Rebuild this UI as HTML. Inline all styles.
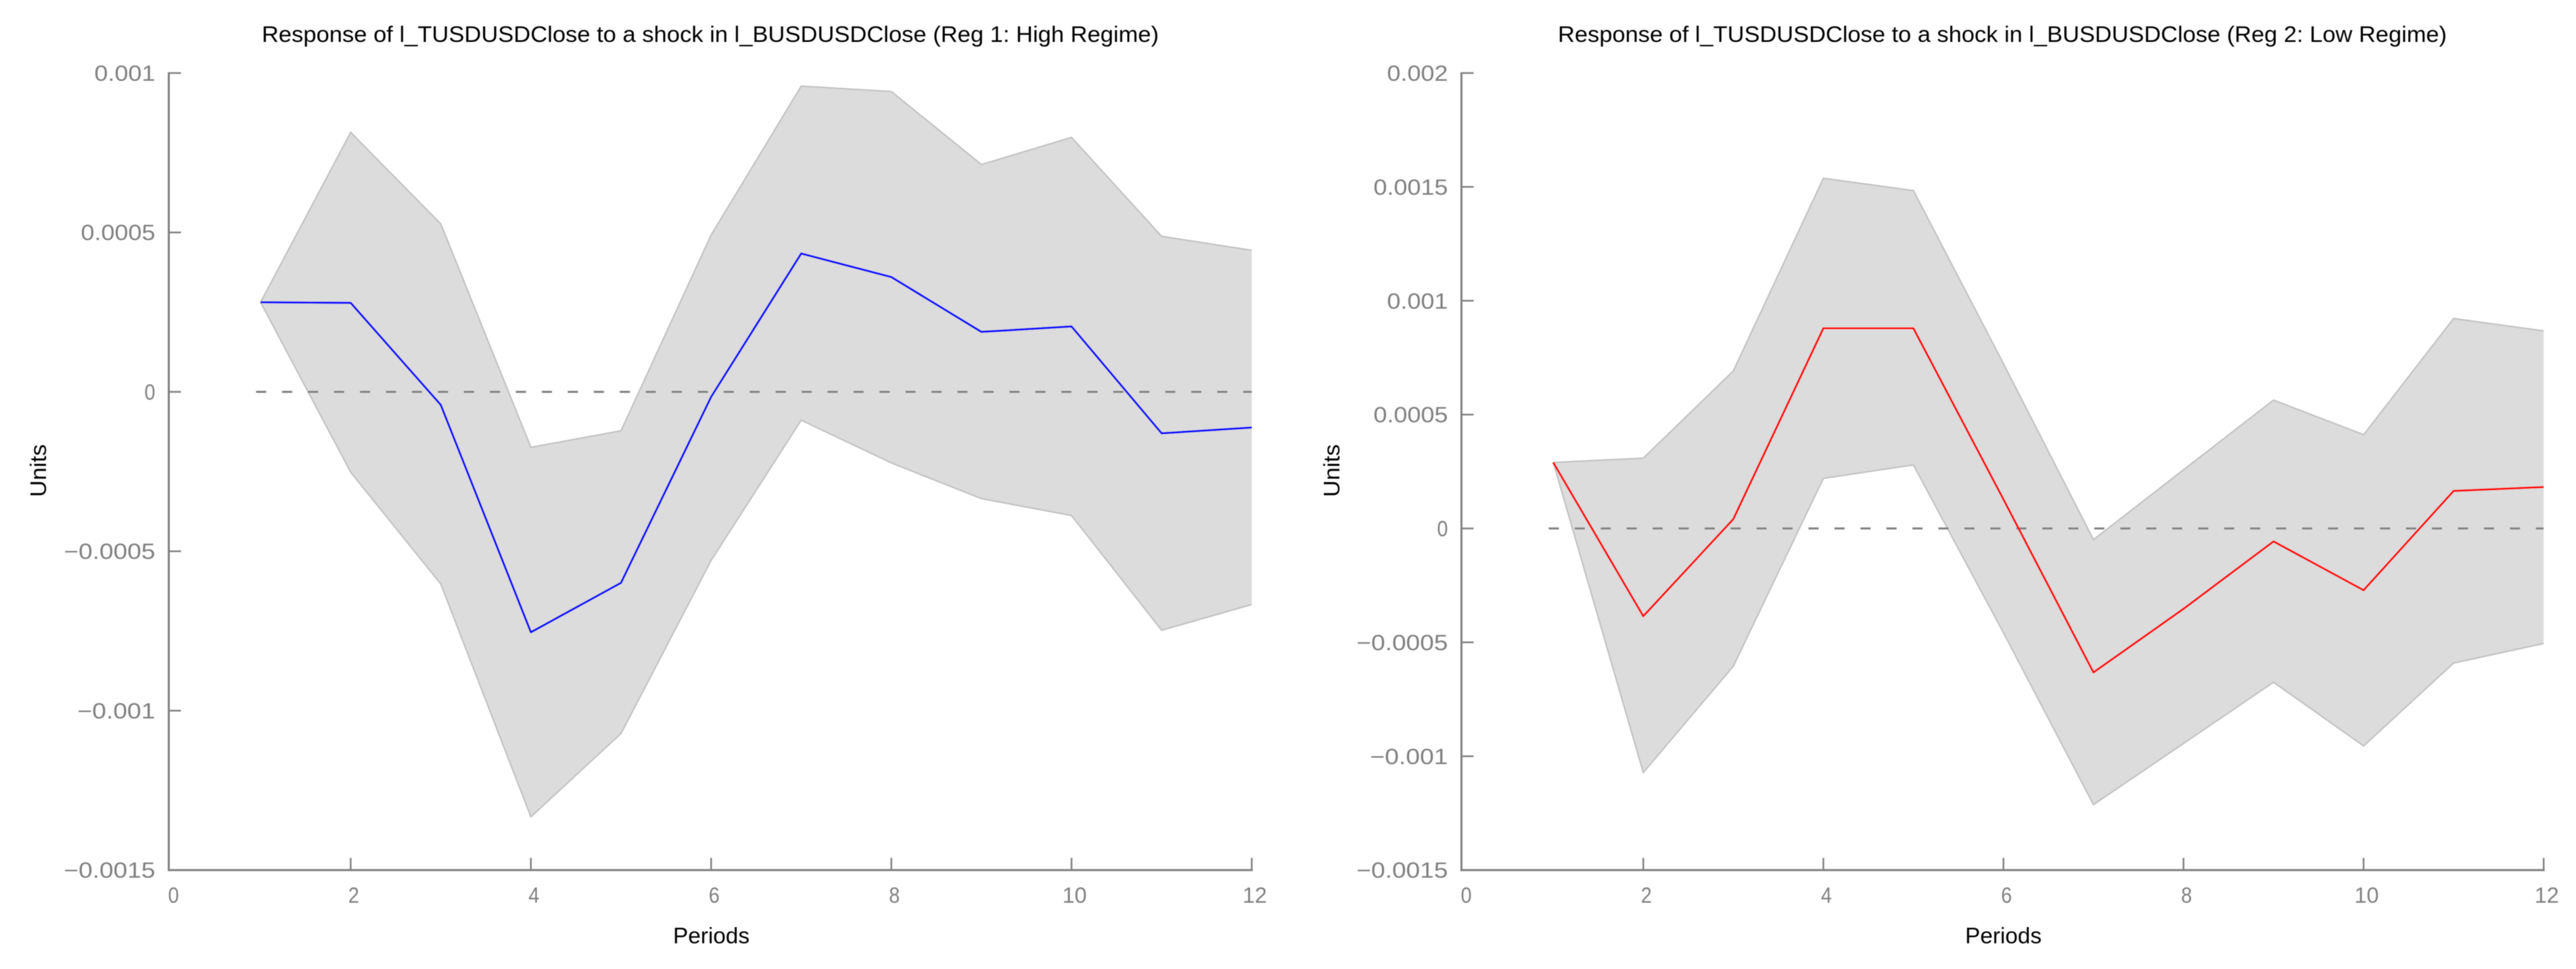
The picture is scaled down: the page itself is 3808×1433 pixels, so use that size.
<!DOCTYPE html>
<html lang="en">
<head>
<meta charset="utf-8">
<title>Impulse responses of l_TUSDUSDClose to a shock in l_BUSDUSDClose</title>
<style>
  html, body { margin: 0; padding: 0; background: #ffffff; }
  body { width: 3808px; height: 1433px; overflow: hidden; }
  svg { display: block; }
  text { font-family: "Liberation Sans", "DejaVu Sans", sans-serif; }
  .title, .axis-title { fill: #000000; font-size: 33px; }
  .tick-label { fill: #808080; font-size: 32px; }
</style>
</head>
<body>
<svg id="figure" xmlns="http://www.w3.org/2000/svg" width="3808" height="1433" viewBox="0 0 3808 1433">
  <defs>
    <filter id="soft" x="-2%" y="-2%" width="104%" height="104%"><feGaussianBlur stdDeviation="0.55"/></filter>
  </defs>
  <rect x="0" y="0" width="3808" height="1433" fill="#ffffff"/>

  <g id="panel-high" filter="url(#soft)">
    <text class="title" x="387" y="62" textLength="1326" lengthAdjust="spacingAndGlyphs">Response of l_TUSDUSDClose to a shock in l_BUSDUSDClose (Reg 1: High Regime)</text>
    <text class="axis-title" x="995" y="1395" textLength="113" lengthAdjust="spacingAndGlyphs">Periods</text>
    <text class="axis-title" transform="translate(68 735) rotate(-90)" textLength="78" lengthAdjust="spacingAndGlyphs">Units</text>
  </g>

  <g id="panel-low" filter="url(#soft)">
    <text class="title" x="2303" y="62" textLength="1314" lengthAdjust="spacingAndGlyphs">Response of l_TUSDUSDClose to a shock in l_BUSDUSDClose (Reg 2: Low Regime)</text>
    <text class="axis-title" x="2905" y="1395" textLength="113" lengthAdjust="spacingAndGlyphs">Periods</text>
    <text class="axis-title" transform="translate(1980 735) rotate(-90)" textLength="78" lengthAdjust="spacingAndGlyphs">Units</text>
  </g>
</svg>

<script>
// ---- Data ----
const periods = [1, 2, 3, 4, 5, 6, 7, 8, 9, 10, 11, 12];
const xTicks = [0, 2, 4, 6, 8, 10, 12];

const highResponse = [0.000281, 0.000279, -0.000041, -0.000754, -0.000599, -0.000016, 0.000434, 0.00036, 0.000188, 0.000205, -0.00013, -0.000112];
const highUpper = [0.000281, 0.000814, 0.000527, -0.000174, -0.000122, 0.000492, 0.000959, 0.000942, 0.000713, 0.000798, 0.000488, 0.000444];
const highLower = [0.000281, -0.000252, -0.000603, -0.001333, -0.001072, -0.000529, -0.000089, -0.000223, -0.000335, -0.000388, -0.000748, -0.000667];
const highYTicks = [0.001, 0.0005, 0, -0.0005, -0.001, -0.0015];

const lowResponse = [0.00029, -0.000385, 0.000041, 0.000879, 0.000879, 0.000128, -0.000632, -0.000353, -0.000057, -0.000271, 0.000165, 0.000182];
const lowUpper = [0.00029, 0.000309, 0.000692, 0.001538, 0.001484, 0.000724, -0.000049, 0.000258, 0.000564, 0.000412, 0.000922, 0.000868];
const lowLower = [0.00029, -0.001072, -0.000605, 0.00022, 0.000279, -0.000458, -0.001213, -0.000944, -0.000675, -0.000955, -0.000591, -0.000505];
const lowYTicks = [0.002, 0.0015, 0.001, 0.0005, 0, -0.0005, -0.001, -0.0015];

// ---- Drawing ----
const SVG_NS = 'http://www.w3.org/2000/svg';
const PLOT_TOP = 108;
const PLOT_BOTTOM = 1286.7;
const TICK_LEN = 18;
const ZERO_START = 0.95;

function make(tag, attrs, parent) {
  const el = document.createElementNS(SVG_NS, tag);
  for (const k in attrs) el.setAttribute(k, attrs[k]);
  parent.appendChild(el);
  return el;
}

function labelText(v) {
  const s = String(Math.abs(v));
  return (v < 0 ? '\u2212' : '') + s;
}

function labelWidth(s) {
  let w = 0;
  for (const c of s) w += c === '.' ? 10 : c === '\u2212' ? 25 : 20;
  return s.length === 1 ? 16 : s.length === 2 ? 36 : w;
}

function drawPanel(group, axisX, x0, xUnit, yTicks, response, upper, lower, color, prefix) {
  const yMax = yTicks[0];
  const yMin = yTicks[yTicks.length - 1];
  const xScale = v => x0 + xUnit * v;
  const yScale = v => PLOT_TOP + (yMax - v) / (yMax - yMin) * (PLOT_BOTTOM - PLOT_TOP);
  const toPoints = series => periods.map((p, i) => xScale(p).toFixed(1) + ',' + yScale(series[i]).toFixed(1));
  const xEnd = xScale(xTicks[xTicks.length - 1]);

  // confidence band
  const bandPts = toPoints(upper).concat(toPoints(lower).reverse()).join(' ');
  const band = make('polygon', { points: bandPts, fill: '#dcdcdc', stroke: 'none' }, group);
  
  

  const upperLine = make('polyline', { points: toPoints(upper).join(' '), fill: 'none', stroke: '#bfbfbf', 'stroke-width': 2 }, group);
  
  

  const lowerLine = make('polyline', { points: toPoints(lower).join(' '), fill: 'none', stroke: '#bfbfbf', 'stroke-width': 2 }, group);
  
  

  // zero reference line
  const zero = make('line', {
    x1: xScale(ZERO_START), x2: xEnd, y1: yScale(0), y2: yScale(0),
    stroke: '#808080', 'stroke-width': 3, 'stroke-dasharray': '15 23.4'
  }, group);
  
  

  // response series
  const line = make('polyline', { points: toPoints(response).join(' '), fill: 'none', stroke: color, 'stroke-width': 3, 'stroke-linejoin': 'round' }, group);
  
  

  // axes
  const yAxis = make('line', { x1: axisX, x2: axisX, y1: PLOT_TOP - 1, y2: PLOT_BOTTOM + 1.5, stroke: '#808080', 'stroke-width': 3 }, group);
  
  

  const xAxis = make('line', { x1: axisX - 1.5, x2: xEnd + 1.5, y1: PLOT_BOTTOM, y2: PLOT_BOTTOM, stroke: '#808080', 'stroke-width': 3 }, group);
  
  

  // y ticks + labels
  yTicks.forEach(v => {
    const y = yScale(v);
    const tick = make('line', { x1: axisX, x2: axisX + TICK_LEN, y1: y, y2: y, stroke: '#808080', 'stroke-width': 2.5 }, group);
    
    

    const s = labelText(v);
    const t = make('text', {
      class: 'tick-label', x: axisX - 20, y: y + 11.5, 'text-anchor': 'end',
      textLength: labelWidth(s), lengthAdjust: 'spacingAndGlyphs'
    }, group);
    t.textContent = s;
    
    
  });

  // x ticks + labels
  xTicks.forEach(v => {
    const x = xScale(v);
    if (v !== 0) {
      const tick = make('line', { x1: x, x2: x, y1: PLOT_BOTTOM, y2: PLOT_BOTTOM - TICK_LEN, stroke: '#808080', 'stroke-width': 2.5 }, group);
      
      
    }
    const s = labelText(v);
    const t = make('text', {
      class: 'tick-label', x: x + 4.5, y: 1335, 'text-anchor': 'middle',
      textLength: labelWidth(s), lengthAdjust: 'spacingAndGlyphs'
    }, group);
    t.textContent = s;
    
    
  });
}

drawPanel(document.getElementById('panel-high'), 249.5, 252, 133.2, highYTicks, highResponse, highUpper, highLower, '#0000ff', 'high-regime');
drawPanel(document.getElementById('panel-low'), 2160.4, 2163, 133.1, lowYTicks, lowResponse, lowUpper, lowLower, '#ff0000', 'low-regime');
</script>
</body>
</html>
